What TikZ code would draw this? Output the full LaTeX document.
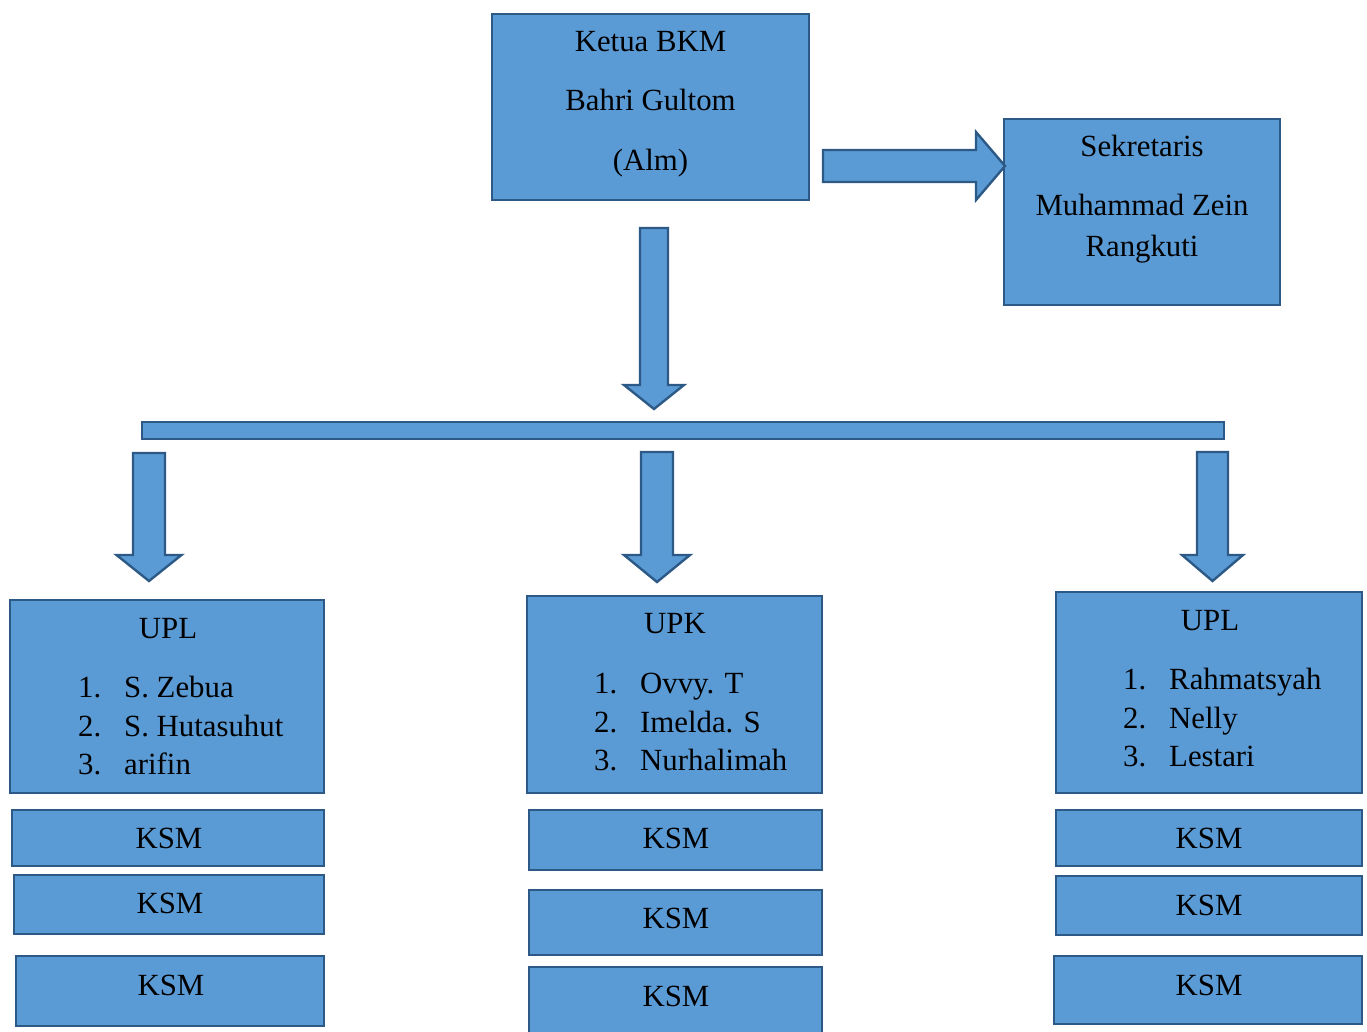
\documentclass[tikz,border=0pt]{standalone}
\usepackage{fontspec}
\setmainfont{Liberation Serif}
\definecolor{boxfill}{HTML}{5B9BD5}
\definecolor{boxline}{HTML}{2C5985}
\newcommand\bdarrow[6]{% cx, shaft half, top, base, head half, tip
  \draw[blk] (#1-#2,#3) -- (#1+#2,#3) -- (#1+#2,#4) -- (#1+#5,#4) -- (#1,#6)
    -- (#1-#5,#4) -- (#1-#2,#4) -- cycle;}
\begin{document}
\begin{tikzpicture}[x=1pt,y=-1pt,
  box/.style={draw=boxline,fill=boxfill,line width=2.4pt,rectangle,inner sep=0pt,
    font=\fontsize{30.8}{36}\selectfont},
  blk/.style={draw=boxline,fill=boxfill,line width=2.4pt,line join=miter},
  txt/.style={font=\fontsize{30.8}{36}\selectfont,inner sep=0pt,text=black},
  lbl/.style={txt,anchor=base},
  num/.style={txt,anchor=base west}]
\useasboundingbox (0,0) rectangle (1367,1032);
% top boxes
\node[box,minimum width=317pt,minimum height=186pt] (ketua) at (650.5,107) {};
\node[lbl] (k1) at (650.5,52) {Ketua BKM};
\node[lbl] (k2) at (650.5,111) {Bahri Gultom};
\node[lbl] (k3) at (650.5,171) {(Alm)};
\node[box,minimum width=276pt,minimum height=186pt] (sekr) at (1142,212) {};
\node[lbl] (s1) at (1142,157) {Sekretaris};
\node[lbl] (s2) at (1142,216) {Muhammad Zein};
\node[lbl] (s3) at (1142,257) {Rangkuti};
% arrows
\draw[blk] (823,150) -- (976,150) -- (976,132) -- (1005,166) -- (976,200) -- (976,182) -- (823,182) -- cycle;
\bdarrow{654}{14}{228}{385}{30}{409}
\node[box,minimum width=1082pt,minimum height=17pt] (bar) at (683,430.5) {};
\bdarrow{149}{16}{453}{555}{32.5}{581}
\bdarrow{657}{16}{452}{555}{33}{582}
\bdarrow{1212.5}{15.5}{452}{555}{30.5}{581}
% left UPL
\node[box,minimum width=314pt,minimum height=193pt] (upl1) at (167,696.5) {};
\node[lbl] (u1t) at (168,638) {UPL};
\node[num] (u1n1) at (78,697) {1.};\node[num] (u1a) at (124,697) {S. Zebua};
\node[num] (u1n2) at (78,736) {2.};\node[num] (u1b) at (124,736) {S. Hutasuhut};
\node[num] (u1n3) at (78,774) {3.};\node[num] (u1c) at (124,774) {arifin};
% middle UPK
\node[box,minimum width=295pt,minimum height=197pt] (upk) at (674.5,694.5) {};
\node[lbl] (u2t) at (675,633) {UPK};
\node[num] (u2n1) at (594,693) {1.};\node[num] (u2a) at (640,693) {Ovvy. T};
\node[num] (u2n2) at (594,732) {2.};\node[num] (u2b) at (640,732) {Imelda. S};
\node[num] (u2n3) at (594,770) {3.};\node[num] (u2c) at (640,770) {Nurhalimah};
% right UPL
\node[box,minimum width=306pt,minimum height=201pt] (upl2) at (1209,692.5) {};
\node[lbl] (u3t) at (1210,630) {UPL};
\node[num] (u3n1) at (1123,689) {1.};\node[num] (u3a) at (1169,689) {Rahmatsyah};
\node[num] (u3n2) at (1123,728) {2.};\node[num] (u3b) at (1169,728) {Nelly};
\node[num] (u3n3) at (1123,766) {3.};\node[num] (u3c) at (1169,766) {Lestari};
% KSM boxes
\node[box,minimum width=312pt,minimum height=56pt] (l1) at (168,838) {};
\node[txt] (l1t) at (169,838) {KSM};
\node[box,minimum width=310pt,minimum height=59pt] (l2) at (169,904.5) {};
\node[txt] (l2t) at (170,903) {KSM};
\node[box,minimum width=308pt,minimum height=70pt] (l3) at (170,991) {};
\node[txt] (l3t) at (171,985) {KSM};
\node[box,minimum width=293pt,minimum height=60pt] (m1) at (675.5,840) {};
\node[txt] (m1t) at (676,838) {KSM};
\node[box,minimum width=293pt,minimum height=65pt] (m2) at (675.5,922.5) {};
\node[txt] (m2t) at (676,918) {KSM};
\node[box,minimum width=293pt,minimum height=80pt] (m3) at (675.5,1007) {};
\node[txt] (m3t) at (676,996) {KSM};
\node[box,minimum width=306pt,minimum height=56pt] (r1) at (1209,838) {};
\node[txt] (r1t) at (1209,838) {KSM};
\node[box,minimum width=306pt,minimum height=59pt] (r2) at (1209,905.5) {};
\node[txt] (r2t) at (1209,905) {KSM};
\node[box,minimum width=308pt,minimum height=68pt] (r3) at (1208,990) {};
\node[txt] (r3t) at (1209,985) {KSM};
\end{tikzpicture}
\end{document}
